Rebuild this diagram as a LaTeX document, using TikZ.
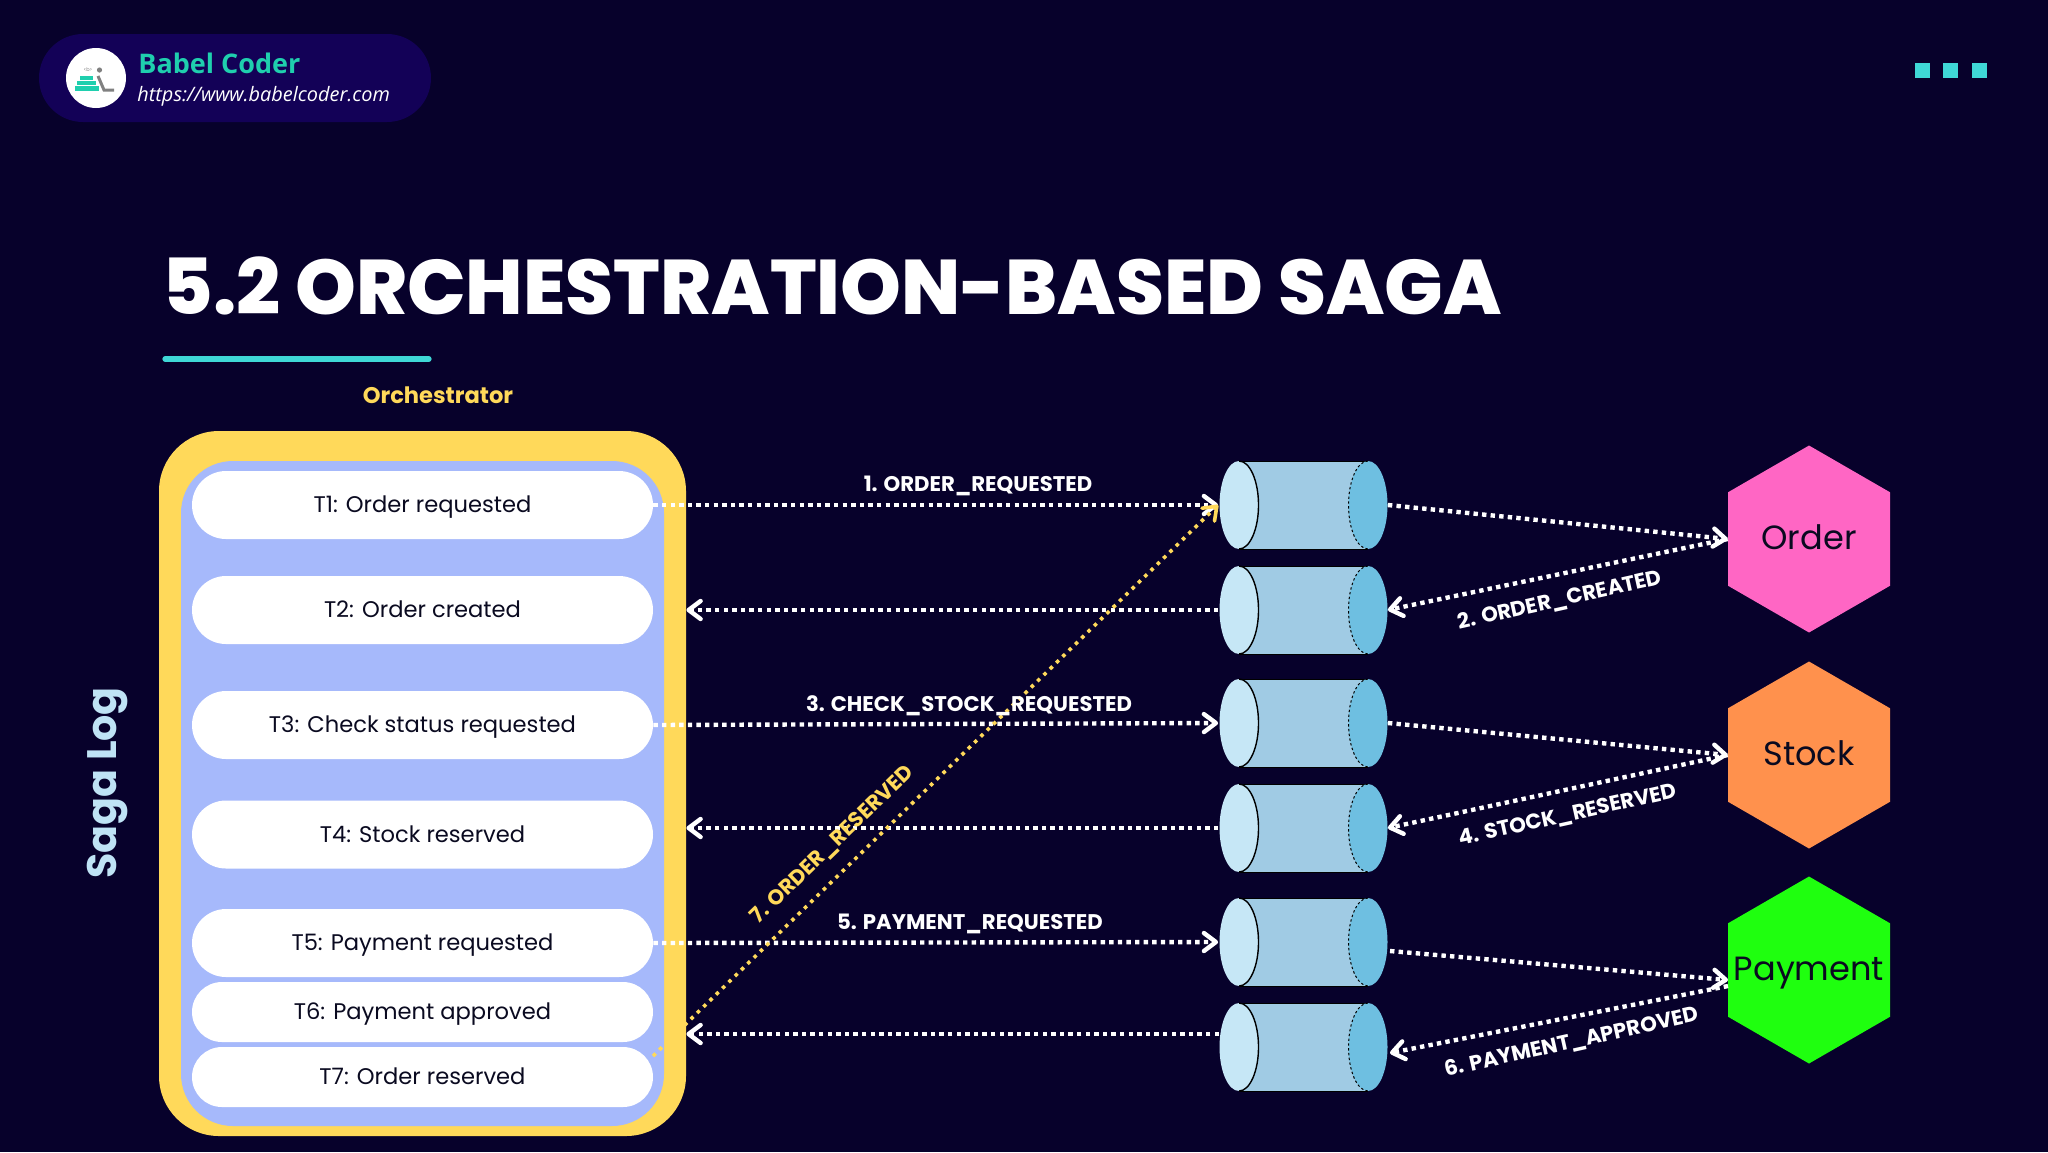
\documentclass[tikz,border=0pt]{standalone}
\usepackage{fontspec}
\setmainfont{Poppins}
\newfontfamily\brandfont{Open Sans}
\newfontfamily\titlefont{Poppins ExtraBold}
\usetikzlibrary{shapes.geometric}
\usetikzlibrary{shapes.misc}
\usetikzlibrary{arrows.meta}

\definecolor{bg_dark}{HTML}{07012B}
\definecolor{brand_pill}{HTML}{130157}
\definecolor{brand_teal}{HTML}{1FCFAE}
\definecolor{accent_teal}{HTML}{3FD8D6}
\definecolor{frame_yellow}{HTML}{FFD95A}
\definecolor{log_blue}{HTML}{A6B9FB}
\definecolor{saga_blue}{HTML}{BFE3F5}
\definecolor{text_dark}{HTML}{0A0A20}
\definecolor{queue_front}{HTML}{C6E7F6}
\definecolor{queue_body}{HTML}{A0CBE4}
\definecolor{queue_back}{HTML}{6EBFE1}
\definecolor{order_pink}{HTML}{FF66C4}
\definecolor{stock_orange}{HTML}{FF914D}
\definecolor{pay_green}{HTML}{1FFF0F}

\newcommand{\fsize}[1]{\fontsize{#1}{#1}\selectfont}

\tikzset{
  step_pill/.style={rounded rectangle, fill=white, text=text_dark, inner sep=0pt,
    minimum width=230.5pt, minimum height=#1, text height=10.2pt, text depth=2.4pt,
    font=\fsize{11.3}},
  step_pill/.default=34pt,
  service_hex/.style n args={2}{regular polygon, regular polygon sides=6, shape border rotate=30,
    fill=#1, inner sep=0pt, minimum size=93.5pt,
    label={[text=text_dark, inner sep=0pt, text height=12pt, text depth=2pt, font=\fsize{16.8}]center:#2}},
  queue_box/.style={rectangle, inner sep=0pt, minimum width=84.5pt, minimum height=44pt},
  white_dots/.style={line width=2.2pt, white, dash pattern=on 2.2pt off 2.1pt,
    -{Straight Barb[length=6pt,width=9pt,round]}},
  yellow_dots/.style={line width=1.8pt, frame_yellow, dash pattern=on 1.8pt off 2.6pt,
    -{Straight Barb[length=6pt,width=9pt,round]}},
  msg_label/.style={white, inner sep=0pt, font=\fsize{10.6}\bfseries}
}

\begin{document}
\begin{tikzpicture}[x=0.5pt,y=-0.5pt]

  % ------------------------------------------------------------------ %
  % Background
  % ------------------------------------------------------------------ %
  \path[use as bounding box, fill=bg_dark] (0,0) rectangle (2048,1152);

  % ------------------------------------------------------------------ %
  % Brand badge
  % ------------------------------------------------------------------ %
  \node[rounded rectangle, fill=brand_pill, inner sep=0pt, minimum width=196pt, minimum height=44pt] (brand) at (235,78) {};
  \node[circle, fill=white, inner sep=0pt, minimum size=30pt] (logo) at (96,78) {};
  \fill[brand_teal] (80,76) rectangle (93,80);
  \fill[brand_teal] (77,81) rectangle (96,85);
  \fill[brand_teal] (75,86) rectangle (99,91);
  \fill[gray] (99.5,70) circle (2.6);
  \draw[gray, line width=1.5pt] (98,76) -- (104,90) -- (114,90);
  \node[gray, inner sep=0pt, font=\fsize{2.5}] (logotag) at (88,70) {<b>};
  \node[anchor=west, inner sep=0pt, text=brand_teal, font=\brandfont\fsize{13.5}\bfseries] (brandname) at (138,63) {Babel Coder};
  \node[anchor=west, inner sep=0pt, text=white, font=\brandfont\fsize{9.95}\itshape] (brandurl) at (137,96) {https://www.babelcoder.com};

  % three squares
  \foreach \x in {1922,1950,1979}
    \fill[accent_teal] (\x-7.5,63) rectangle (\x+7.5,78);

  % ------------------------------------------------------------------ %
  % Title
  % ------------------------------------------------------------------ %
  \node[anchor=west, inner sep=0pt, text=white, font=\titlefont\fsize{38.7}] (title) at (162,286) {5.2 ORCHESTRATION-BASED SAGA};
  \draw[accent_teal, line width=2.6pt, line cap=round] (165,359) -- (429,359);

  % ------------------------------------------------------------------ %
  % Orchestrator and its saga log
  % ------------------------------------------------------------------ %
  \node[text=frame_yellow, inner sep=0pt, font=\fsize{11.3}\bfseries] (orch) at (438,395) {Orchestrator};
  \node[rotate=90, text=saga_blue, inner sep=0pt, font=\fsize{20.6}\bfseries] (sagalog) at (107,783) {Saga Log};

  \node[rectangle, rounded corners=30pt, fill=frame_yellow, minimum width=263.5pt, minimum height=352.5pt, inner sep=0pt] (frame) at (422.5,783.5) {};
  \node[rectangle, rounded corners=26pt, fill=log_blue, minimum width=241.5pt, minimum height=332.5pt, inner sep=0pt] (log) at (422.5,793.5) {};

  \node[step_pill] (t1) at (422.5,505) {T1: Order requested};
  \node[step_pill] (t2) at (422.5,610) {T2: Order created};
  \node[step_pill] (t3) at (422.5,725) {T3: Check status requested};
  \node[step_pill] (t4) at (422.5,834.5) {T4: Stock reserved};
  \node[step_pill] (t5) at (422.5,943) {T5: Payment requested};
  \node[step_pill=30pt] (t6) at (422.5,1012) {T6: Payment approved};
  \node[step_pill=30pt] (t7) at (422.5,1077) {T7: Order reserved};

  % ------------------------------------------------------------------ %
  % Queues
  % ------------------------------------------------------------------ %
  \foreach \name/\y in {q1/505,q2/610,q3/723,q4/828,q5/942,q6/1047} {
    \node[queue_box] (\name) at (1303,\y) {};
    \fill[queue_body] (1239,\y-44) -- (1368,\y-44) -- (1368,\y+44) -- (1239,\y+44) -- cycle;
    \draw[black, line width=0.5pt] (1239,\y-44) -- (1368,\y-44);
    \draw[black, line width=0.5pt] (1239,\y+44) -- (1368,\y+44);
    % far end
    \fill[queue_back] (1368,\y) ellipse (19.5 and 44);
    \draw[black, line width=0.5pt, dash pattern=on 1.2pt off 1.2pt] (1368,\y-44) arc (270:90:19.5 and 44);
    % near end
    \fill[queue_front] (1239,\y) ellipse (19.5 and 44);
    \draw[black, line width=0.7pt] (1239,\y-44) arc (270:450:19.5 and 44);
  }

  % ------------------------------------------------------------------ %
  % Services
  % ------------------------------------------------------------------ %
  \node[service_hex={order_pink}{Order}] (order) at (1809,539) {};
  \node[service_hex={stock_orange}{Stock}] (stock) at (1809,755) {};
  \node[service_hex={pay_green}{Payment}] (payment) at (1809,970) {};

  % ------------------------------------------------------------------ %
  % Messages
  % ------------------------------------------------------------------ %
  \coordinate (q5out) at (1390,951);
  \coordinate (q6in) at (1219,1034);
  \coordinate (q6back) at (1390,1053);
  \coordinate (payin) at (1728,980);
  \coordinate (payout) at (1728,986);
  \coordinate (t7out) at (653,1056);

  \draw[white_dots] (t1.east) -- (q1.west);
  \draw[white_dots] (q2.west) -- (frame.east |- q2.west);
  \draw[white_dots] (t3.east) -- (q3.west);
  \draw[white_dots] (q4.west) -- (frame.east |- q4.west);
  \draw[white_dots] (t5.east) -- (q5.west);
  \draw[white_dots] (q6in) -- (frame.east |- q6in);

  \draw[white_dots] (q1.east) -- (order.west);
  \draw[white_dots] (order.west) -- (q2.east);
  \draw[white_dots] (q3.east) -- (stock.west);
  \draw[white_dots] (stock.west) -- (q4.east);
  \draw[white_dots] (q5out) -- (payin);
  \draw[white_dots] (payout) -- (q6back);

  \draw[yellow_dots] (t7out) -- (q1.west);

  % ------------------------------------------------------------------ %
  % Annotations
  % ------------------------------------------------------------------ %
  \node[msg_label] (m1) at (978,486) {1. ORDER\_REQUESTED};
  \node[msg_label, rotate=12.5] (m2) at (1560,601) {2. ORDER\_CREATED};
  \node[msg_label] (m3) at (969,706) {3. CHECK\_STOCK\_REQUESTED};
  \node[msg_label, rotate=12.5] (m4) at (1568,816) {4. STOCK\_RESERVED};
  \node[msg_label] (m5) at (970,924) {5. PAYMENT\_REQUESTED};
  \node[msg_label, rotate=12.5] (m6) at (1572,1043) {6. PAYMENT\_APPROVED};
  \node[msg_label, rotate=44, text=frame_yellow] (m7) at (833,845) {7. ORDER\_RESERVED};

\end{tikzpicture}
\end{document}
